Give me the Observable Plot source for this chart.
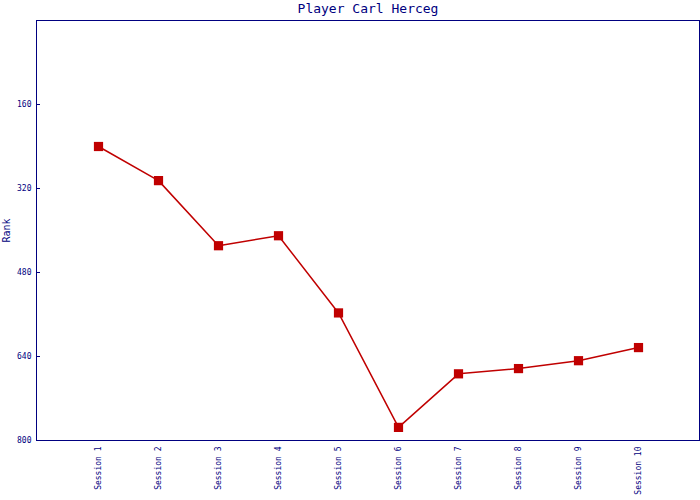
<!DOCTYPE html>
<html>
<head>
<meta charset="utf-8">
<script src="https://cdn.jsdelivr.net/npm/d3@7"></script>
<script src="https://cdn.jsdelivr.net/npm/@observablehq/plot@0.6"></script>
<style>
  html, body { margin: 0; padding: 0; background: #fff; }
  #chart svg { display: block; }
</style>
</head>
<body>
<div id="chart"></div>
<script>
const titleText = "Player Carl Herceg";
const sessions = ["Session 1","Session 2","Session 3","Session 4","Session 5","Session 6","Session 7","Session 8","Session 9","Session 10"];
const ranks = [240, 305, 429, 410, 557, 775, 673, 663, 648, 623];
const yTicks = [160, 320, 480, 640, 800];

const data = sessions.map((s, i) => ({session: s, rank: ranks[i]}));
const navy = "#000080";
const red = "#c00000";

const chart = Plot.plot({
  width: 700,
  height: 500,
  marginLeft: 36,
  marginRight: 1,
  marginTop: 20,
  marginBottom: 60,
  style: {color: navy, fontFamily: "'DejaVu Sans Mono', monospace", fontSize: "8px", background: "#fff"},
  x: {type: "point", domain: sessions, padding: 1},
  y: {domain: [0, 800], reverse: true},
  marks: [
    Plot.frame({stroke: navy, strokeWidth: 1}),
    Plot.axisY({ticks: yTicks, tickSize: -4, tickPadding: 9, label: "Rank", labelAnchor: "center", labelOffset: 34, labelArrow: "none", fontSize: 8}),
    Plot.axisX({tickSize: 0, tickPadding: 6, tickRotate: -90, label: null, fontSize: 8}),
    Plot.line(data, {x: "session", y: "rank", stroke: red, strokeWidth: 1.5}),
    Plot.dot(data, {x: "session", y: "rank", symbol: "square", r: 5.2, fill: red, stroke: "none"}),
    Plot.text([titleText], {frameAnchor: "top", lineAnchor: "middle", dy: -12, text: d => d, fill: navy, fontSize: 13, fontFamily: "'DejaVu Sans Mono', monospace"})
  ]
});
chart.querySelectorAll("[aria-label='y-axis label'] text").forEach(t => t.setAttribute("font-size", "10"));
document.getElementById("chart").appendChild(chart);
</script>
</body>
</html>
